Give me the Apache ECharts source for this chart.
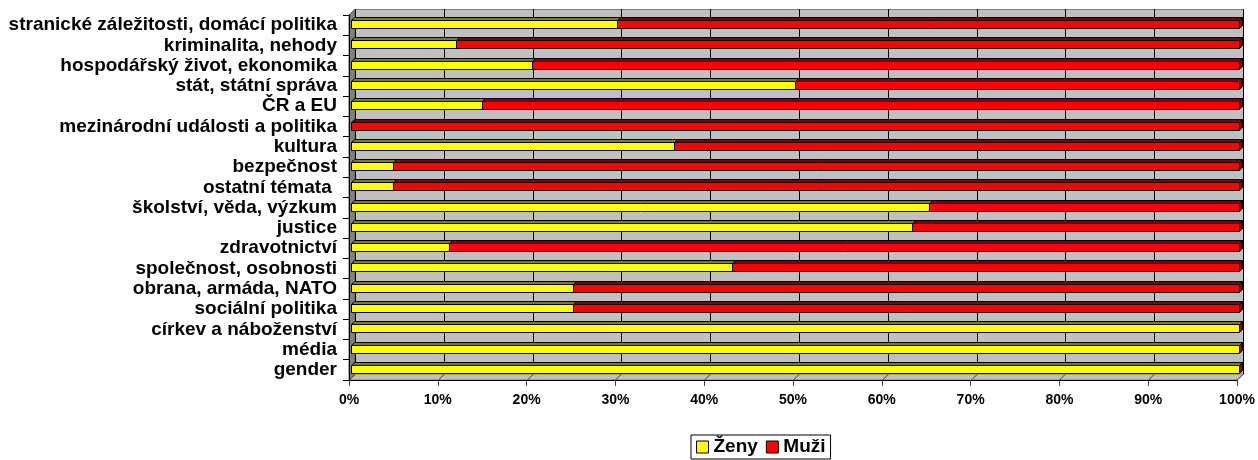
<!DOCTYPE html>
<html>
<head>
<meta charset="utf-8">
<style>
  html, body { margin: 0; padding: 0; background: #ffffff; }
  #chart { width: 1258px; height: 460px; }
</style>
<script src="https://cdn.jsdelivr.net/npm/echarts@6/dist/echarts.min.js"></script>
</head>
<body>
<div id="chart"></div>
<script>
// Topics (top to bottom)
const categories = [
  'stranické záležitosti, domácí politika',
  'kriminalita, nehody',
  'hospodářský život, ekonomika',
  'stát, státní správa',
  'ČR a EU',
  'mezinárodní události a politika',
  'kultura',
  'bezpečnost',
  'ostatní témata ',
  'školství, věda, výzkum',
  'justice',
  'zdravotnictví',
  'společnost, osobnosti',
  'obrana, armáda, NATO',
  'sociální politika',
  'církev a náboženství',
  'média',
  'gender'
];

// Share of women and men per topic, in %
const zeny = [30, 11.8, 20.4, 50, 14.8, 0, 36.4, 4.7, 4.7, 65.1, 63.2, 11.0, 42.9, 25, 25, 100, 100, 100];
const muzi = [70, 88.2, 79.6, 50, 85.2, 100, 63.6, 95.3, 95.3, 34.9, 36.8, 89.0, 57.1, 75, 75, 0, 0, 0];

// Value axis ticks
const xTicks = [0, 10, 20, 30, 40, 50, 60, 70, 80, 90, 100];

const FONT = '"Liberation Sans", Arial, sans-serif';
const DEPTH = 6;      // depth of the walls
const BAR_DEPTH = 3;  // depth of each bar
const BAR_SHIFT = 2;  // bars sit slightly behind the front plane

// Stacked segments: [start, end, categoryIndex]
const zenyData = categories.map((c, i) => [0, zeny[i], i]);
const muziData = categories.map((c, i) => [zeny[i], zeny[i] + muzi[i], i]);
const frameData = xTicks.map(v => [v, 0]);

function crisp(v) { return Math.round(v) + 0.5; }

// Back wall, side wall, floor and the gridlines on them
function renderFrame(params, api) {
  const cs = params.coordSys;
  const top = cs.y, bottom = cs.y + cs.height;
  const x = crisp(api.coord([api.value(0), 0])[0]);
  const children = [];
  if (params.dataIndex === 0) {
    children.push({
      type: 'rect',
      shape: { x: crisp(cs.x + DEPTH), y: crisp(top - DEPTH), width: Math.round(cs.width), height: Math.round(cs.height) },
      style: { fill: '#c0c0c0', stroke: '#808080', lineWidth: 1 }
    });
    children.push({
      type: 'polygon',
      shape: { points: [[cs.x, top], [cs.x + DEPTH, top - DEPTH], [cs.x + DEPTH, bottom - DEPTH], [cs.x, bottom]] },
      style: { fill: '#808080', stroke: '#606060', lineWidth: 1 }
    });
    children.push({
      type: 'polygon',
      shape: { points: [[cs.x, bottom], [cs.x + DEPTH, bottom - DEPTH], [cs.x + cs.width + DEPTH, bottom - DEPTH], [cs.x + cs.width, bottom]] },
      style: { fill: '#c0c0c0', stroke: '#808080', lineWidth: 1 }
    });
  }
  children.push({
    type: 'line',
    shape: { x1: x + DEPTH, y1: top - DEPTH, x2: x + DEPTH, y2: bottom - DEPTH },
    style: { stroke: '#000000', lineWidth: 1 }
  });
  children.push({
    type: 'line',
    shape: { x1: x, y1: bottom, x2: x + DEPTH, y2: bottom - DEPTH },
    style: { stroke: '#404040', lineWidth: 1 }
  });
  return { type: 'group', children: children };
}

// 3D-looking bar segment: top face, front face and (for the last segment) the end face
function makeBarRenderer(front, shade, drawEnd) {
  return function (params, api) {
    const a = api.coord([api.value(0), api.value(2)]);
    const b = api.coord([api.value(1), api.value(2)]);
    const L = crisp(a[0] + BAR_SHIFT);
    const R = crisp(b[0] + BAR_SHIFT);
    const t = crisp(a[1] - 5);
    const h = 8;
    const d = BAR_DEPTH;
    const stroke = { stroke: '#000000', lineWidth: 1, lineJoin: 'miter' };
    const children = [];
    if (R > L) {
      children.push({
        type: 'polygon',
        shape: { points: [[L, t], [L + d, t - d], [R + d, t - d], [R, t]] },
        style: Object.assign({ fill: shade }, stroke)
      });
      children.push({
        type: 'rect',
        shape: { x: L, y: t, width: R - L, height: h },
        style: Object.assign({ fill: front }, stroke)
      });
    }
    if (drawEnd) {
      children.push({
        type: 'polygon',
        shape: { points: [[R, t], [R + d, t - d], [R + d, t + h - d], [R, t + h]] },
        style: Object.assign({ fill: shade }, stroke)
      });
    }
    return { type: 'group', children: children };
  };
}

const chart = echarts.init(document.getElementById('chart'), null, { renderer: 'canvas' });

chart.setOption({
  backgroundColor: '#ffffff',
  animation: false,
  textStyle: { fontFamily: FONT },
  grid: { left: 349, top: 15, width: 888, height: 365, containLabel: false },
  legend: {
    data: ['Ženy', 'Muži'],
    left: 691,
    top: 435,
    orient: 'horizontal',
    icon: 'rect',
    itemWidth: 12,
    itemHeight: 12,
    itemGap: 8,
    padding: [2, 5, 2, 5],
    borderColor: '#000000',
    borderWidth: 1,
    itemStyle: { borderColor: '#000000', borderWidth: 1 },
    textStyle: { fontFamily: FONT, fontSize: 19, fontWeight: 'bold', color: '#000000', lineHeight: 20 },
    selectedMode: false
  },
  xAxis: {
    type: 'value',
    min: 0,
    max: 100,
    interval: 10,
    z: 5,
    axisLine: { show: true, lineStyle: { color: '#000000', width: 1 } },
    axisTick: { show: true, length: 6, lineStyle: { color: '#404040' } },
    splitLine: { show: false },
    axisLabel: {
      formatter: '{value}%',
      margin: 13,
      fontFamily: FONT,
      fontSize: 14,
      fontWeight: 'bold',
      color: '#000000'
    }
  },
  yAxis: {
    type: 'category',
    data: categories,
    inverse: true,
    z: 5,
    axisLine: { show: true, lineStyle: { color: '#000000', width: 1 } },
    axisTick: { show: true, length: 6, interval: 0, lineStyle: { color: '#000000' } },
    splitLine: { show: false },
    axisLabel: {
      interval: 0,
      margin: 12,
      fontFamily: FONT,
      fontSize: 19,
      fontWeight: 'bold',
      color: '#000000'
    }
  },
  series: [
    {
      name: 'frame',
      type: 'custom',
      silent: true,
      z: 1,
      renderItem: renderFrame,
      encode: { x: 0, y: 1 },
      data: frameData
    },
    {
      name: 'Ženy',
      type: 'custom',
      z: 3,
      itemStyle: { color: '#ffff00', borderColor: '#000000', borderWidth: 1 },
      renderItem: makeBarRenderer('#ffff00', '#808000', false),
      encode: { x: [0, 1], y: 2 },
      data: zenyData
    },
    {
      name: 'Muži',
      type: 'custom',
      z: 4,
      itemStyle: { color: '#ff0000', borderColor: '#000000', borderWidth: 1 },
      renderItem: makeBarRenderer('#ff0000', '#800000', true),
      encode: { x: [0, 1], y: 2 },
      data: muziData
    }
  ]
});
</script>
</body>
</html>
